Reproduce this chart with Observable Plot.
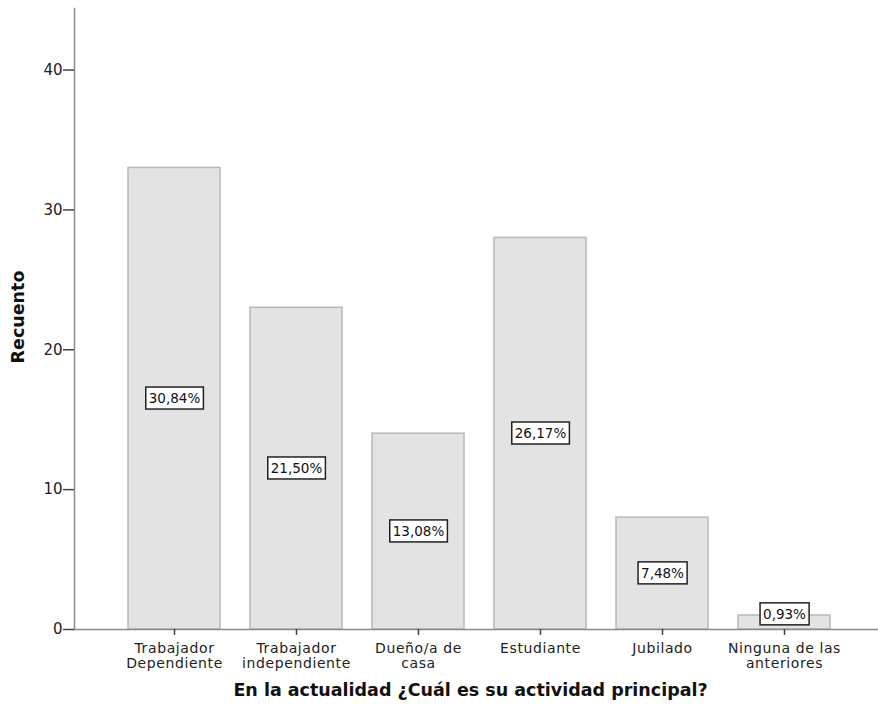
<!DOCTYPE html>
<html>
<head>
<meta charset="utf-8">
<script src="https://cdn.jsdelivr.net/npm/d3@7"></script>
<script src="https://cdn.jsdelivr.net/npm/@observablehq/plot@0.6"></script>
<style>
  html, body { margin: 0; padding: 0; background: #fff; }
  #chart svg { display: block; }
</style>
</head>
<body>
<div id="chart"></div>
<script>
const categories = ["Trabajador Dependiente", "Trabajador independiente", "Dueño/a de casa", "Estudiante", "Jubilado", "Ninguna de las anteriores"];
const tickLabels = ["Trabajador\nDependiente", "Trabajador\nindependiente", "Dueño/a de\ncasa", "Estudiante", "Jubilado", "Ninguna de las\nanteriores"];
const counts = [33, 23, 14, 28, 8, 1];
const percentLabels = ["30,84%", "21,50%", "13,08%", "26,17%", "7,48%", "0,93%"];
const yTicks = [0, 10, 20, 30, 40];
const xTitle = "En la actualidad ¿Cuál es su actividad principal?";
const yTitle = "Recuento";

const data = categories.map((c, i) => ({cat: c, count: counts[i], pct: percentLabels[i], tick: tickLabels[i]}));
const tickMap = new Map(data.map(d => [d.cat, d.tick]));

const plot = Plot.plot({
  width: 878,
  height: 715,
  marginTop: 8,
  marginBottom: 86,
  marginLeft: 74,
  marginRight: 0,
  style: {fontFamily: "DejaVu Sans", color: "#222", background: "#fff"},
  x: {domain: categories, paddingInner: 0.246, paddingOuter: 0.418, align: 0.53},
  y: {domain: [0, 44.4]},
  marks: [
    Plot.barY(data, {x: "cat", y: "count", fill: "#e3e3e3", stroke: "#b8b8b8", strokeWidth: 1.5}),
    Plot.frame({anchor: "left", stroke: "#8a8a8a", strokeWidth: 1.5}),
    Plot.ruleY([0], {stroke: "#8a8a8a", strokeWidth: 1.5}),
    Plot.axisY({ticks: yTicks, tickSize: 11, tickPadding: 1, label: null, fontSize: 15, stroke: "#444", strokeWidth: 1.5, fill: "#222"}),
    Plot.axisX({tickSize: 6, tickPadding: 7, label: null, fontSize: 14, stroke: "#444", strokeWidth: 1.5, fill: "#222",
      tickFormat: d => tickMap.get(d), lineHeight: 1.07, className: "xticklab"}),
    Plot.text(data, {x: "cat", y: d => Math.max(d.count / 2, 1.07), text: "pct", fontSize: 13.5, fill: "#111", className: "pct"}),
    Plot.text([xTitle], {frameAnchor: "bottom", textAnchor: "middle", dy: 66, dx: -6, text: d => d, fontSize: 17.5, fontWeight: "bold", fill: "#111"}),
    Plot.text([yTitle], {frameAnchor: "left", textAnchor: "middle", dx: -56, dy: -2, rotate: -90, text: d => d, fontSize: 17.5, fontWeight: "bold", fill: "#111"})
  ]
});

document.getElementById("chart").appendChild(plot);

// letter spacing for x tick labels
d3.select(plot).selectAll("g.xticklab text").style("letter-spacing", "0.6px");

// boxes behind percentage labels
d3.select(plot).selectAll("g.pct text").each(function() {
  const b = this.getBBox();
  const padX = 3, padY = 3;
  d3.select(this.parentNode).insert("rect", () => this)
    .attr("x", b.x - padX)
    .attr("y", b.y - padY)
    .attr("width", b.width + 2 * padX)
    .attr("height", b.height + 2 * padY)
    .attr("transform", this.getAttribute("transform"))
    .attr("fill", "#fff")
    .attr("stroke", "#222")
    .attr("stroke-width", 1.5);
});
</script>
</body>
</html>
